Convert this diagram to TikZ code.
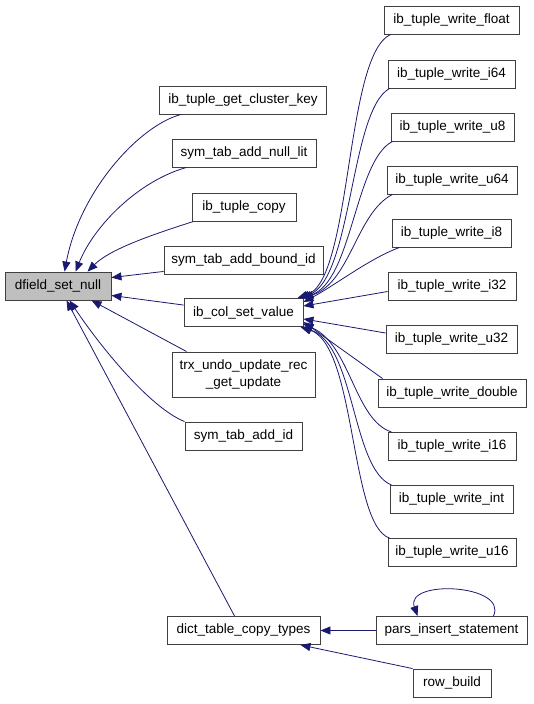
\documentclass[tikz,border=0pt]{standalone}
\usepackage{fontspec}
\setmainfont{Liberation Sans}
\usetikzlibrary{arrows.meta}
\definecolor{edgeblue}{HTML}{191970}
\definecolor{boxline}{HTML}{404040}
\definecolor{boxfill}{HTML}{BFBFBF}

\begin{document}
\begin{tikzpicture}[x=1pt,y=-1pt,
  fn/.style={draw=boxline,line width=0.9pt,fill=white,minimum height=28pt,inner sep=0pt,font=\fontsize{13.5}{17}\selectfont},
  call/.style={draw=edgeblue,line width=0.8pt,-{Triangle[length=10pt,width=8pt]}}]

\useasboundingbox (0,0) rectangle (533,704);

\node[fn,fill=boxfill,minimum width=106pt] (dfield) at (58,286) {dfield\_set\_null};

\node[fn,minimum width=167pt] (key) at (243,100) {ib\_tuple\_get\_cluster\_key};
\node[fn,minimum width=144pt] (nulllit) at (244,153) {sym\_tab\_add\_null\_lit};
\node[fn,minimum width=104pt] (copy) at (244,207) {ib\_tuple\_copy};
\node[fn,minimum width=159pt] (boundid) at (243.5,260) {sym\_tab\_add\_bound\_id};
\node[fn,minimum width=119pt] (colset) at (243.5,312.5) {ib\_col\_set\_value};
\node[fn,minimum width=143pt,minimum height=45pt,align=center] (trx) at (243.5,374.5) {trx\_undo\_update\_rec\\\_get\_update};
\node[fn,minimum width=117pt] (addid) at (243.5,436) {sym\_tab\_add\_id};
\node[fn,minimum width=153pt] (dict) at (243.5,630.5) {dict\_table\_copy\_types};

\node[fn,minimum width=135pt] (wfloat) at (451.5,20) {ib\_tuple\_write\_float};
\node[fn,minimum width=127pt] (wi64) at (451.5,74) {ib\_tuple\_write\_i64};
\node[fn,minimum width=123pt] (wu8) at (452.5,127) {ib\_tuple\_write\_u8};
\node[fn,minimum width=130pt] (wu64) at (452,180) {ib\_tuple\_write\_u64};
\node[fn,minimum width=119pt] (wi8) at (451.5,233) {ib\_tuple\_write\_i8};
\node[fn,minimum width=128pt] (wi32) at (452,286.5) {ib\_tuple\_write\_i32};
\node[fn,minimum width=131pt] (wu32) at (451.5,339) {ib\_tuple\_write\_u32};
\node[fn,minimum width=148pt] (wdouble) at (452,393) {ib\_tuple\_write\_double};
\node[fn,minimum width=128pt] (wi16) at (452,446.5) {ib\_tuple\_write\_i16};
\node[fn,minimum width=123pt] (wint) at (451.5,499.5) {ib\_tuple\_write\_int};
\node[fn,minimum width=128pt] (wu16) at (452,552.5) {ib\_tuple\_write\_u16};
\node[fn,minimum width=151pt] (pars) at (451.5,630.5) {pars\_insert\_statement};
\node[fn,minimum width=78pt] (row) at (452,683) {row\_build};

\draw[call] ([xshift=22pt]key.south west) .. controls +(-42,11) and +(15,-80) .. ([xshift=60pt]dfield.north west);
\draw[call] ([xshift=15pt]nulllit.south west) .. controls +(-47,13) and +(19,-47) .. ([xshift=71pt]dfield.north west);
\draw[call] ([xshift=2pt]copy.south west) .. controls +(-44,14) and +(22,-22) .. ([xshift=83pt]dfield.north west);
\draw[call] ([yshift=3pt]boundid.south west) -- ([yshift=-6pt]dfield.north east);
\draw[call] ([yshift=-7pt]colset.north west) -- ([yshift=5pt]dfield.south east);
\draw[call] ([xshift=15pt]trx.north west) -- ([xshift=87pt]dfield.south west);
\draw[call] (addid.north west) .. controls +(-35,-14) and +(30,45) .. ([xshift=65pt]dfield.south west);
\draw[call] ([xshift=68pt]dict.north west) -- ([xshift=62pt]dfield.south west);

\draw[call] ([xshift=7pt]wfloat.south west) .. controls +(-46,21) and +(55,-18) .. ([xshift=-6pt]colset.north east);
\draw[call] ([xshift=2pt]wi64.south west) .. controls +(-40,22) and +(53,-18) .. ([xshift=-4pt]colset.north east);
\draw[call] ([xshift=2pt]wu8.south west) .. controls +(-38,19) and +(51,-16) .. ([xshift=-2pt]colset.north east);
\draw[call] ([xshift=6pt]wu64.south west) .. controls +(-36,18) and +(47,-16) .. (colset.north east);
\draw[call] ([xshift=8pt]wi8.south west) .. controls +(-30,11) and +(32,-17) .. ([yshift=-4pt]colset.north east);
\draw[call] ([yshift=-5pt]wi32.west) -- ([yshift=-8pt]colset.north east);
\draw[call] ([yshift=6pt]wu32.west) -- ([yshift=8pt]colset.south east);
\draw[call] ([xshift=5pt]wdouble.north west) -- ([yshift=5pt]colset.south east);
\draw[call] ([xshift=4pt]wi16.north west) .. controls +(-37,-12) and +(47,21) .. ([yshift=3pt]colset.south east);
\draw[call] ([xshift=2pt]wint.north west) .. controls +(-40,-16) and +(54,18) .. ([xshift=-2pt]colset.south east);
\draw[call] ([xshift=2pt]wu16.north west) .. controls +(-40,-13) and +(56,18) .. ([xshift=-3pt]colset.south east);

\draw[call] (pars) -- (dict);
\draw[call] ([xshift=-34pt]pars.north east) .. controls +(15,-32) and +(-13,-37) .. ([xshift=42pt]pars.north west);
\draw[call] (row.north west) -- ([xshift=-20pt]dict.south east);

\end{tikzpicture}
\end{document}
